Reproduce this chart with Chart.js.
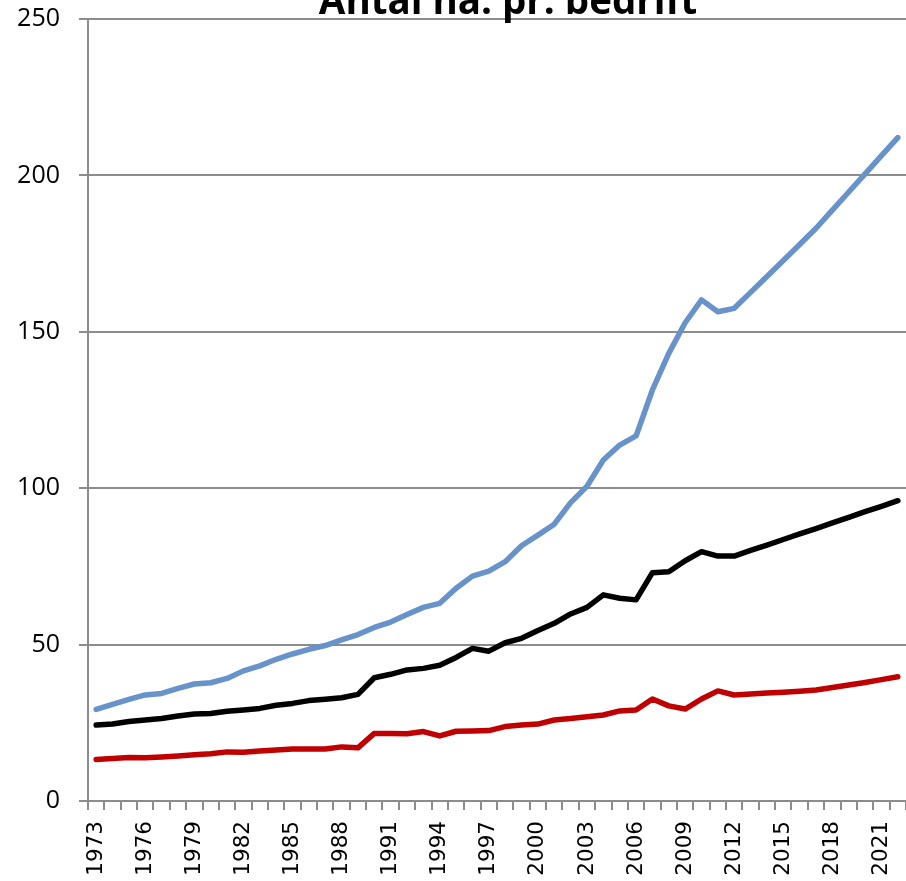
<!DOCTYPE html>
<html>
<head>
<meta charset="utf-8">
<script src="https://cdn.jsdelivr.net/npm/chart.js@4.4.1/dist/chart.umd.min.js"></script>
<style>
  html, body { margin: 0; padding: 0; background: #ffffff; }
  #wrap { position: relative; width: 906px; height: 881px; }
</style>
</head>
<body>
<div id="wrap"><canvas id="c" width="906" height="881"></canvas></div>
<script>
const title = "Antal ha. pr. bedrift";

const years = [];
for (let y = 1973; y <= 2022; y++) years.push(String(y));

const blueSeries = [
  29.3, 30.9, 32.5, 33.9, 34.4, 36.0, 37.4, 37.8, 39.2, 41.6,
  43.2, 45.3, 47.0, 48.5, 49.7, 51.5, 53.2, 55.5, 57.2, 59.6,
  61.9, 63.2, 68.0, 71.9, 73.5, 76.5, 81.6, 85.0, 88.5, 95.4,
  100.6, 109.0, 113.8, 116.7, 131.4, 143.1, 152.9, 160.2, 156.4, 157.5,
  162.6, 167.7, 172.8, 177.9, 183.1, 188.9, 194.7, 200.5, 206.3, 212.1
];

const blackSeries = [
  24.3, 24.6, 25.4, 25.9, 26.4, 27.2, 27.8, 28.0, 28.7, 29.1,
  29.6, 30.6, 31.2, 32.1, 32.5, 33.0, 34.1, 39.4, 40.5, 41.9,
  42.4, 43.4, 45.9, 48.8, 47.9, 50.6, 52.0, 54.5, 56.8, 59.8,
  61.9, 65.9, 64.8, 64.3, 73.0, 73.3, 76.8, 79.7, 78.3, 78.3,
  80.1, 81.8, 83.6, 85.4, 87.1, 88.9, 90.7, 92.5, 94.2, 96.0
];

const redSeries = [
  13.3, 13.6, 13.9, 13.8, 14.1, 14.4, 14.8, 15.1, 15.7, 15.6,
  16.0, 16.3, 16.6, 16.6, 16.6, 17.3, 17.0, 21.6, 21.6, 21.5,
  22.2, 20.8, 22.3, 22.4, 22.5, 23.8, 24.3, 24.6, 25.9, 26.4,
  26.9, 27.5, 28.8, 29.1, 32.6, 30.4, 29.4, 32.6, 35.2, 33.9,
  34.2, 34.5, 34.8, 35.1, 35.5, 36.3, 37.1, 37.9, 38.8, 39.7
];

const yTicks = [0, 50, 100, 150, 200, 250];

const titlePlugin = {
  id: 'cutTitle',
  afterDraw(chart) {
    const ctx = chart.ctx;
    ctx.save();
    ctx.font = 'bold 38.5px "Open Sans"';
    ctx.fillStyle = '#000000';
    ctx.textAlign = 'center';
    ctx.textBaseline = 'alphabetic';
    ctx.fillText(title, 508, 14);
    ctx.restore();
  }
};

new Chart(document.getElementById('c'), {
  type: 'line',
  data: {
    labels: years,
    datasets: [
      { data: blueSeries, borderColor: '#6793CA', borderWidth: 5.5 },
      { data: blackSeries, borderColor: '#000000', borderWidth: 5.5 },
      { data: redSeries, borderColor: '#C00000', borderWidth: 5.5 }
    ]
  },
  options: {
    responsive: false,
    animation: false,
    devicePixelRatio: 1,
    layout: { padding: { top: 19, right: 0, left: 0, bottom: 0 } },
    elements: {
      point: { radius: 0, hoverRadius: 0 },
      line: { tension: 0, borderJoinStyle: 'round', borderCapStyle: 'round', fill: false }
    },
    plugins: {
      legend: { display: false },
      title: { display: false },
      tooltip: { enabled: false }
    },
    scales: {
      x: {
        type: 'category',
        offset: true,
        grid: {
          offset: true,
          drawOnChartArea: false,
          drawTicks: true,
          tickLength: 9,
          color: '#8c8c8c',
          lineWidth: 2
        },
        border: { display: true, color: '#8c8c8c', width: 2 },
        ticks: {
          autoSkip: false,
          maxRotation: 90,
          minRotation: 90,
          padding: 11,
          color: '#000000',
          font: { family: '"DejaVu Sans"', size: 21.5 },
          callback: function (val, idx) {
            return idx % 3 === 0 ? years[idx] : '';
          }
        },
        afterFit(scale) {
          scale.height = 80;
          scale.paddingLeft = 0;
          scale.paddingRight = 0;
        }
      },
      y: {
        min: 0,
        max: 250,
        afterBuildTicks(scale) { scale.ticks = yTicks.map(v => ({ value: v })); },
        grid: {
          color: '#8c8c8c',
          lineWidth: 2,
          drawTicks: true,
          tickLength: 9
        },
        border: { display: true, color: '#8c8c8c', width: 2 },
        ticks: {
          padding: 19,
          color: '#000000',
          font: { family: '"Open Sans"', size: 25 }
        },
        afterFit(scale) {
          scale.width = 88;
          scale.paddingTop = 0;
          scale.paddingBottom = 0;
        }
      }
    }
  },
  plugins: [titlePlugin]
});
</script>
</body>
</html>
